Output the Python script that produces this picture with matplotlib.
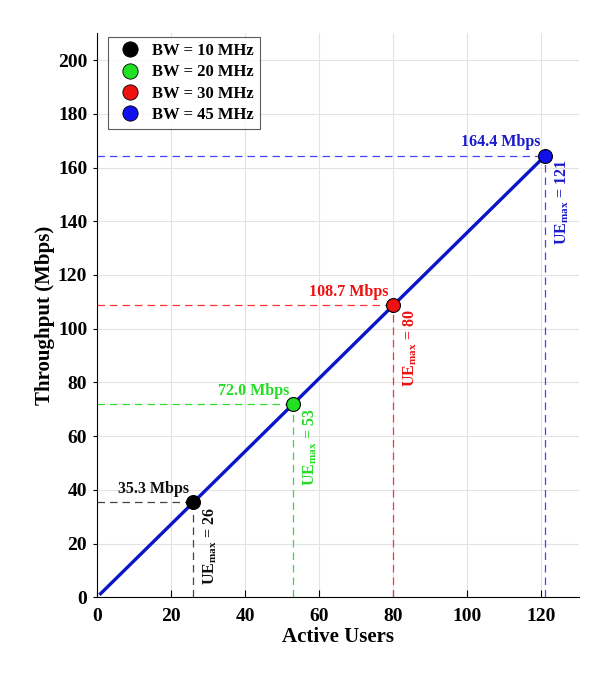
import matplotlib
matplotlib.use('Agg')
import matplotlib.pyplot as plt
from matplotlib.lines import Line2D

plt.rcParams['font.family'] = ['Liberation Serif', 'DejaVu Serif']
plt.rcParams['font.weight'] = 'bold'
plt.rcParams['mathtext.fontset'] = 'custom'
plt.rcParams['mathtext.rm'] = 'Liberation Serif:bold'
plt.rcParams['mathtext.bf'] = 'Liberation Serif:bold'

# data
users = [1, 26, 53, 80, 121]
throughput = [1.36, 35.3, 72.0, 108.7, 164.4]
bw_labels = ['BW = 10 MHz', 'BW = 20 MHz', 'BW = 30 MHz', 'BW = 45 MHz']
ue_max = [26, 53, 80, 121]
tp_max = [35.3, 72.0, 108.7, 164.4]
face_cols = ['#000000', '#22e022', '#ee1111', '#1111ee']
text_cols = ['#111111', '#22dd22', '#ee1111', '#1a1acc']
dash_cols = ['#444444', '#33dd33', '#ff3333', '#4444ff']

fig = plt.figure(figsize=(6.02, 6.78), dpi=100)
ax = fig.add_axes([0.161, 0.119, 0.800, 0.832])

ax.plot(users, throughput, color='#0a14c8', lw=2.4, zorder=3)

for u, t, fc, tc, dc in zip(ue_max, tp_max, face_cols, text_cols, dash_cols):
    ax.plot([0, u], [t, t], ls=(0, (6, 4)), color=dc, lw=0.9, zorder=2)
    ax.plot([u, u], [0, t], ls=(0, (6, 4)), color=dc, lw=0.9, zorder=2)
    ax.plot(u, t, 'o', ms=10, mfc=fc, mec='k', mew=0.8, zorder=4)
    ax.text(u - 1.2, t + 2.0, '%.1f Mbps' % t, color=tc, fontsize=11.5,
            fontweight='bold', ha='right', va='bottom')
    ax.text(u + 2.2, t - 1.5, r'UE$_{\mathrm{max}}$ = %d' % u, color=tc,
            fontsize=11.5, fontweight='bold', rotation=90, ha='left', va='top')

ax.set_xlim(0, 130)
ax.set_ylim(0, 210)
ax.set_xticks(range(0, 121, 20))
ax.set_yticks(range(0, 201, 20))
ax.tick_params(axis='x', direction='in', labelsize=14, length=5, width=0.8, pad=8)
ax.tick_params(axis='y', direction='out', labelsize=14, length=3, width=0.8, pad=4)
for lab in ax.get_xticklabels() + ax.get_yticklabels():
    lab.set_fontweight('bold')
ax.grid(True, color='#e3e3e3', lw=0.8)
ax.set_axisbelow(True)
ax.spines['top'].set_visible(False)
ax.spines['right'].set_visible(False)
ax.set_xlabel('Active Users', fontsize=15, fontweight='bold', labelpad=1)
ax.set_ylabel('Throughput (Mbps)', fontsize=15, fontweight='bold', labelpad=2)

handles = [Line2D([], [], ls='', marker='o', ms=11, mfc=fc, mec='k', mew=0.6)
           for fc in face_cols]
leg = ax.legend(handles, bw_labels, loc='upper left',
                bbox_to_anchor=(11 / 482, 1 - 4 / 564), borderaxespad=0,
                prop={'weight': 'bold', 'size': 12.0}, frameon=True, fancybox=False,
                edgecolor='#333333', handletextpad=0.3,
                labelspacing=0.32, borderpad=0.35, handlelength=2.0)
leg.get_frame().set_linewidth(0.8)

fig.savefig('out.png', dpi=100)
